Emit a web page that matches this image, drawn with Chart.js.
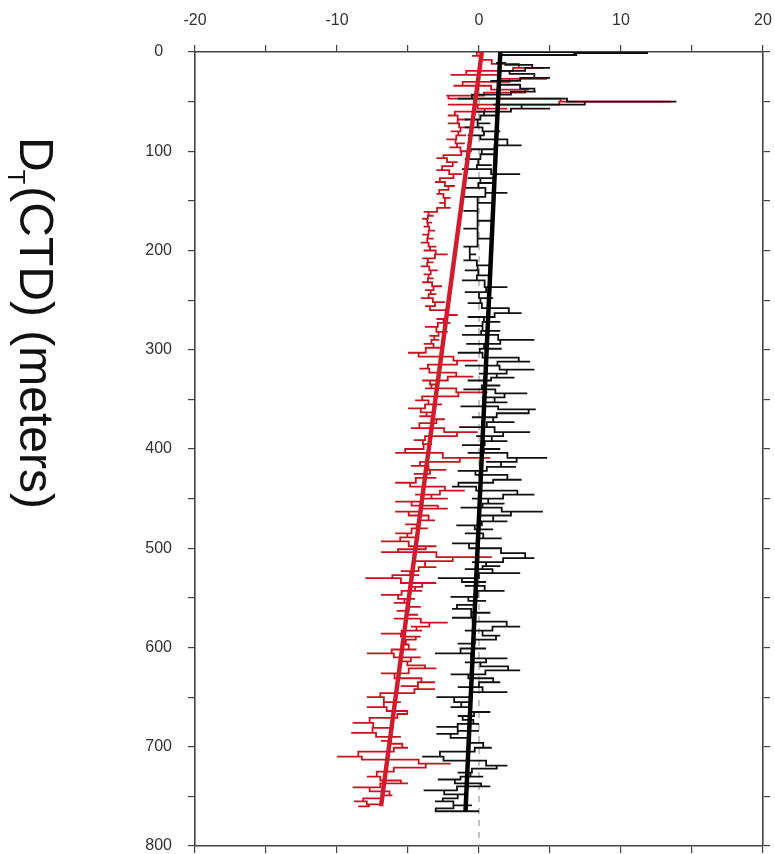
<!DOCTYPE html>
<html lang="en">
<head>
    <meta charset="UTF-8">
    <title>DT(CTD) profile</title>
    <script src="https://cdn.jsdelivr.net/npm/chart.js"></script>
    <style>
        html, body { margin: 0; padding: 0; background: #fff; }
        #wrap { width: 775px; height: 854px; }
    </style>
</head>
<body>
<div id="wrap"><canvas id="profileChart" width="775" height="854"></canvas></div>
<script>
    // depth (m) and value pairs
    const blackDepth = [0,1,3,11,13,16,19,22,26,29,33,37,40,43,47,50,53,57,60,64,68,72,76,80,84,88,94,98,103,108,
        114,118,123,127,132,137,142,146,152,160,170,178,188,196,204,210,215,220,225,230,237,242,248,253,258,263,267,272,276,281,
        285,290,294,299,303,308,312,316,320,324,328,331,336,340,344,348,353,357,360,364,368,373,378,383,387,392,396,400,404,409,
        413,418,422,426,431,434,438,442,446,450,455,459,463,467,473,477,481,485,490,495,500,505,510,514,518,521,525,530,534,538,
        543,549,553,557,561,565,570,574,579,583,588,592,596,601,606,611,615,619,623,627,631,635,640,645,650,655,660,665,669,673,
        677,680,684,687,691,696,701,705,710,714,719,722,726,730,733,737,740,744,748,752,755,759,762,765,765];
    const blackDT = [1.5,11.9,1.8,1.2,2.5,5.0,1.5,2.8,5.0,0.8,2.0,3.8,4.0,0.5,-1.5,13.9,1.0,5.0,-0.5,1.2,
        -1.0,0.8,-1.0,1.5,-0.8,1.0,3.0,-0.8,1.2,-1.0,0.9,-1.2,2.9,-0.8,1.0,-1.1,2.0,-1.1,0.9,-1.1,
        0.9,-1.1,0.9,-1.1,-0.2,-1.1,0.8,-1.0,0.9,-1.2,2.0,-1.0,1.0,-0.8,1.2,3.0,-0.8,1.5,-1.0,1.5,
        -1.2,3.9,-0.9,1.6,-1.5,2.0,3.6,-1.0,3.9,0.0,2.5,-0.8,1.5,-1.1,3.4,0.2,2.0,-1.3,4.0,3.0,
        -0.5,2.5,-1.4,3.6,-0.2,2.0,-1.2,1.5,-0.8,4.8,0.5,2.6,-1.5,1.0,3.0,-1.0,-1.9,1.5,3.9,-0.5,
        1.8,-1.3,4.5,0.0,2.0,-1.6,1.0,-1.0,1.6,-1.9,0.5,2.6,3.9,-0.5,1.5,-1.0,2.9,-2.9,0.5,-1.0,
        1.8,-2.0,0.5,-1.2,-1.9,0.8,-1.9,1.0,2.9,-1.0,1.5,0.9,-1.5,0.5,-3.1,2.0,-1.0,1.2,2.9,-2.0,
        0.5,1.5,-1.5,2.0,-3.0,-0.5,-2.0,0.8,-1.5,-0.8,0.0,-3.0,0.0,-3.0,-1.0,-0.3,0.9,-1.5,-4.0,-1.0,
        2.0,0.5,-1.5,0.3,-2.9,-0.5,0.8,-3.9,-1.0,-2.0,-3.1,-0.5,-3.1,-3.0,0.0];

    const redDepth = [0,4,8,12,16,19,23,27,30,34,38,41,44,47,50,53,57,60,64,68,
        72,76,80,84,88,92,96,100,104,107,111,115,119,123,127,131,135,139,143,147,
        152,157,161,165,168,172,176,180,184,188,192,196,200,204,208,212,216,220,224,228,
        232,236,240,244,248,252,256,260,265,269,273,277,282,286,290,294,298,303,307,311,
        315,319,323,327,331,335,339,343,347,351,355,359,363,367,370,374,379,383,387,391,
        395,400,404,409,413,417,421,425,429,434,438,442,446,450,453,457,460,463,467,472,
        476,480,485,489,493,498,501,504,509,513,519,523,527,530,535,539,543,547,551,555,
        559,563,567,571,575,579,583,586,589,592,597,602,606,610,614,618,621,626,631,635,
        639,642,646,650,655,660,664,667,671,676,681,686,690,694,697,701,705,710,713,717,
        721,725,730,734,737,741,745,749,752,755,758,760];
    const redDT = [0.2,-0.5,0.8,1.0,4.6,0.2,-2.0,4.8,-0.5,-1.8,3.5,3.0,-2.3,-2.0,13.5,-2.2,2.0,-1.2,-2.2,-0.8,
        -2.2,-0.6,-2.0,-0.9,-2.3,-1.0,-2.1,-0.5,-2.0,-3.0,-1.5,-2.2,-3.0,-1.2,-2.4,-3.1,-1.7,-2.6,-3.0,-2.0,
        -2.8,-2.0,-3.9,-3.2,-4.0,-3.3,-3.9,-3.1,-4.0,-3.2,-4.1,-3.0,-3.9,-2.2,-4.0,-3.2,-4.1,-2.9,-3.9,-3.2,
        -4.0,-2.6,-3.8,-3.0,-4.1,-2.4,-3.8,-3.1,-1.5,-3.0,-2.0,-3.8,-2.2,-3.5,-2.8,-3.9,-2.5,-5.0,-3.5,-0.1,
        -3.0,-4.2,-2.8,-0.4,-4.0,-2.9,-3.8,0.6,-3.5,-4.5,-2.6,-5.0,-3.2,-4.2,-2.4,-3.6,-4.8,-0.1,-3.0,-4.6,
        -3.3,-4.5,-5.9,0.8,-3.5,-4.8,-2.3,-4.6,-3.0,-5.9,-3.8,-1.0,-4.5,-2.2,-5.9,-3.6,-2.2,-5.9,-4.0,-3.1,
        -5.2,-3.6,-5.9,-4.2,-6.9,-3.0,-4.5,-6.9,0.9,-4.6,-3.0,-5.5,-4.2,-8.0,-3.0,-5.0,-4.0,-6.9,-4.5,-6.0,
        -4.1,-5.8,-4.3,-6.0,-2.2,-4.8,-4.0,-6.9,-4.1,-4.8,-5.5,-4.4,-7.9,-4.1,-5.5,-4.6,-3.0,-6.9,-5.0,-3.1,
        -5.5,-3.1,-6.0,-7.9,-5.5,-7.9,-5.1,-5.0,-6.5,-8.9,-6.0,-9.0,-5.5,-6.9,-5.8,-5.0,-7.0,-10.0,-6.5,-2.0,
        -5.5,-6.5,-7.9,-6.0,-5.0,-8.9,-6.5,-6.1,-7.5,-8.8,-7.0,-8.5];

    // straight fit lines (end points)
    const blackFitDepth = [0, 765];
    const blackFit = [1.5, -0.95];
    const redFitDepth = [0, 760];
    const redFit = [0.2, -6.9];
    const zeroDepth = [0, 800];
    const zeroLine = [0, 0];

    const xMin = -20, xMax = 20, xStep = 5, xLabelStep = 10;
    const yMin = 0, yMax = 800, yStep = 50, yLabelStep = 100;
    const axisTitle = ['D', 'T', '(CTD) (meters)'];

    function pts(depths, vals) {
        return depths.map((d, i) => ({ x: vals[i], y: d }));
    }

    const frame = '#444';
    const tickFont = { family: "'Liberation Sans', Arial, sans-serif", size: 16 };

    // y title, read top to bottom
    const titlePlugin = {
        id: 'sideTitle',
        afterDraw(chart) {
            const c = chart.ctx;
            c.save();
            c.fillStyle = '#111';
            c.textBaseline = 'alphabetic';
            c.translate(20, 137);
            c.rotate(Math.PI / 2);
            c.font = "48px 'Liberation Sans', Arial, sans-serif";
            c.fillText(axisTitle[0], 0, 0);
            let w = c.measureText(axisTitle[0]).width;
            c.font = "24px 'Liberation Sans', Arial, sans-serif";
            c.fillText(axisTitle[1], w - 2, 12);
            w += c.measureText(axisTitle[1]).width - 2;
            c.font = "48px 'Liberation Sans', Arial, sans-serif";
            c.fillText(axisTitle[2], w + 2, 0);
            c.restore();
        }
    };

    function sideScale(pos, min, max, step, labelStep, size, extra) {
        return Object.assign({
            type: 'linear',
            position: pos,
            min: min,
            max: max,
            ticks: {
                stepSize: step,
                font: tickFont,
                color: '#333',
                callback: v => (v % labelStep === 0 ? v : '')
            },
            grid: { drawOnChartArea: false, tickLength: 7, color: frame, lineWidth: 1.2 },
            border: { color: frame, width: 1.6 },
            afterFit: s => {
                if (s.isHorizontal()) s.height = size; else s.width = size;
                s.paddingTop = 0; s.paddingBottom = 0; s.paddingLeft = 0; s.paddingRight = 0;
            }
        }, extra);
    }

    const ctx = document.getElementById('profileChart').getContext('2d');
    new Chart(ctx, {
        type: 'scatter',
        data: {
            datasets: [
                { label: 'black fit', data: pts(blackFitDepth, blackFit), showLine: true, borderColor: '#000', borderWidth: 4.5, pointRadius: 0 },
                { label: 'red fit', data: pts(redFitDepth, redFit), showLine: true, borderColor: '#d01c2c', borderWidth: 4.5, pointRadius: 0 },
                { label: 'black', data: pts(blackDepth, blackDT), showLine: true, stepped: 'middle', borderColor: '#111', borderWidth: 1.8, pointRadius: 0 },
                { label: 'red', data: pts(redDepth, redDT), showLine: true, stepped: 'middle', borderColor: '#c8141e', borderWidth: 1.8, pointRadius: 0 },
                { label: 'zero', data: pts(zeroDepth, zeroLine), showLine: true, borderColor: '#9a9a9a', borderWidth: 1.2, borderDash: [6, 6], pointRadius: 0 }
            ]
        },
        options: {
            responsive: false,
            animation: false,
            layout: { padding: { left: 110, top: 0, right: 4, bottom: 0 } },
            plugins: { legend: { display: false }, tooltip: { enabled: false } },
            scales: {
                x: sideScale('top', xMin, xMax, xStep, xLabelStep, 52, {}),
                y: sideScale('left', yMin, yMax, yStep, yLabelStep, 85, { reverse: true }),
                x2: sideScale('bottom', xMin, xMax, xStep, xLabelStep, 8, {}),
                y2: sideScale('right', yMin, yMax, yStep, yLabelStep, 8, { reverse: true })
            }
        },
        plugins: [titlePlugin]
    });

    // label spacing tweaks
    const ch = Chart.getChart('profileChart');
    ch.options.scales.x.ticks.padding = 15;
    ch.options.scales.y.ticks.padding = 16;
    ch.options.scales.y.ticks.crossAlign = 'center';
    ch.options.scales.x2.ticks.display = false;
    ch.options.scales.y2.ticks.display = false;
    ch.update();
</script>
</body>
</html>
